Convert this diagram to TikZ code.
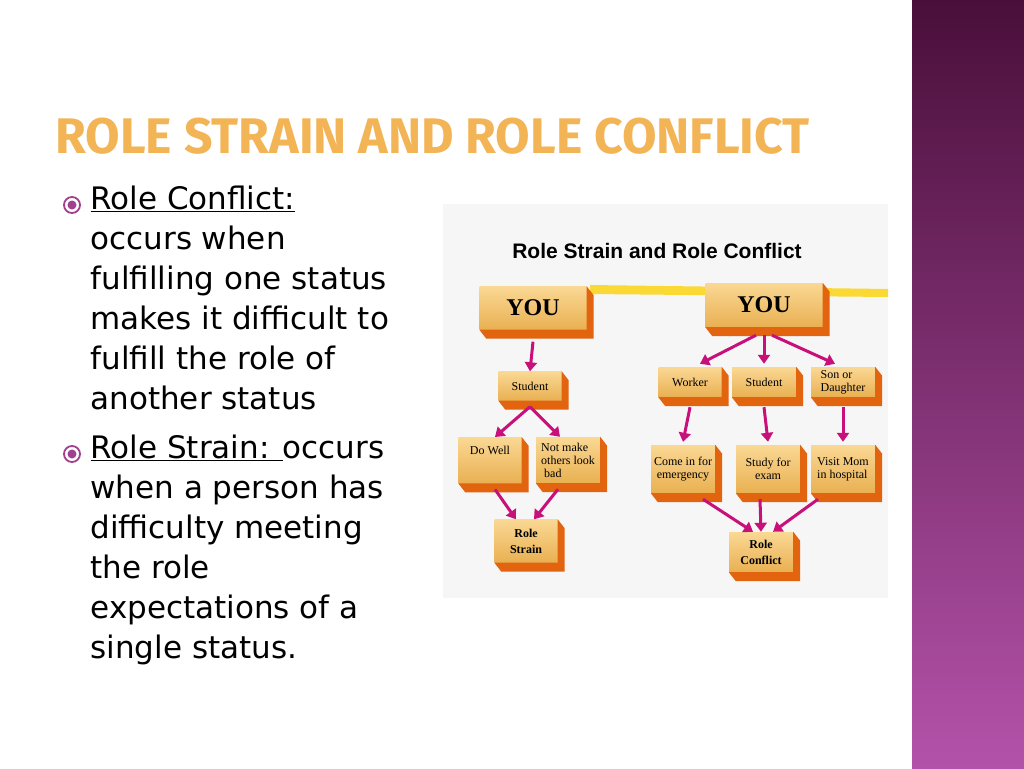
\documentclass[tikz,border=0pt]{standalone}
\usepackage{fontspec}
\setmainfont{DejaVu Sans}
\newfontfamily\serif{Liberation Serif}
\newfontfamily\arial{Liberation Sans}
\newfontfamily\ttl{Fira Sans}
\usetikzlibrary{arrows.meta}
\definecolor{band1}{HTML}{4A0F3A}
\definecolor{band2}{HTML}{B452AA}
\definecolor{gold1}{HTML}{FAD894}
\definecolor{gold2}{HTML}{E9B052}
\definecolor{side}{HTML}{E2640F}
\definecolor{arr}{HTML}{C8107A}
\definecolor{ttlc}{HTML}{F2B455}
\definecolor{dot}{HTML}{A0408E}

\tikzset{
 box/.style={top color=gold1,bottom color=gold2,inner sep=1pt,align=center,
  font=\serif\fontsize{12}{13}\selectfont},
 pink/.style={draw=arr,line width=3pt,-{Triangle[length=9pt,width=12pt]}}
}
\newcommand\faces[1]{%
 \fill[side] (#1.north east) -- ([shift={(7pt,-9pt)}]#1.north east)
  -- ([shift={(7pt,-9pt)}]#1.south east) -- ([shift={(7pt,-9pt)}]#1.south west)
  -- (#1.south west) -- (#1.south east) -- cycle;}

\begin{document}
\begin{tikzpicture}[x=1pt,y=-1pt]
\useasboundingbox[fill=white] (0,0) rectangle (1024,768);
\shade[top color=band1,bottom color=band2] (912,0) rectangle (1024,768);

\node[anchor=west,text=ttlc,font=\ttl\bfseries\fontsize{50}{50}\selectfont] (title) at (52,136) {ROLE STRAIN AND ROLE CONFLICT};

% bullets
\node[anchor=north west,align=left,font=\fontsize{31}{40}\selectfont] (t1) at (87,182)
 {\underline{Role Conflict:}\\occurs when\\fulfilling one status\\makes it difficult to\\fulfill the role of\\another status};
\node[anchor=north west,align=left,font=\fontsize{31}{40}\selectfont] (t2) at (87,431)
 {\underline{Role Strain: }occurs\\when a person has\\difficulty meeting\\the role\\expectations of a\\single status.};
\foreach \n/\y in {b1/205,b2/454} {
 \node[circle,draw=dot,line width=1.8pt,minimum size=16pt,inner sep=0] (\n) at (72,\y) {};
 \fill[dot] (\n) circle (4.5);
}

% diagram
\fill[gray!7] (443,204) rectangle (888,598);
\node[font=\arial\bfseries\fontsize{21}{21}\selectfont] (dt) at (657,251) {Role Strain and Role Conflict};
\fill[yellow!70!orange,opacity=.8] (590,285) -- (888,289) -- (888,297) -- (590,294) -- cycle;

\node[box,minimum width=107,minimum height=43,font=\serif\bfseries\fontsize{24}{24}\selectfont] (yl) at (533,308) {YOU};
\node[box,minimum width=117,minimum height=44,font=\serif\bfseries\fontsize{24}{24}\selectfont] (yr) at (764,305) {YOU};
\node[box,minimum width=63,minimum height=29] (stl) at (530,386) {Student};
\node[box,minimum width=63,minimum height=30] (wk) at (690,382) {Worker};
\node[box,minimum width=64,minimum height=30] (str) at (764,382) {Student};
\node[box,minimum width=64,minimum height=30,align=left] (son) at (843,382) {Son or\\Daughter};
\node[box,minimum width=63,minimum height=46,anchor=north,text depth=20pt] (dw) at (490,437) {Do Well};
\node[box,minimum width=64,minimum height=46,align=left] (nm) at (568,460) {Not make\\others look\\\ bad};
\node[box,minimum width=64,minimum height=48] (ce) at (683,469) {Come in for\\emergency};
\node[box,minimum width=64,minimum height=48] (se) at (768,469) {Study for\\exam};
\node[box,minimum width=64,minimum height=48,align=left] (vm) at (843,469) {Visit Mom\\in hospital};
\node[box,minimum width=63,minimum height=43,font=\serif\bfseries\fontsize{12}{16}\selectfont] (rs) at (526,541) {Role\\Strain};
\node[box,minimum width=64,minimum height=40,font=\serif\bfseries\fontsize{12}{16}\selectfont] (rc) at (761,552) {Role\\Conflict};
\foreach \n in {yl,yr,stl,wk,str,son,dw,nm,ce,se,vm,rs,rc} \faces{\n};

% arrows
\draw[pink] ([yshift=-12pt]yl.south) -- (stl.north);
\draw[pink] ([yshift=-6pt]stl.south) -- ([xshift=5pt]dw.north);
\draw[pink] ([yshift=-6pt]stl.south) -- ([xshift=-8pt]nm.north);
\draw[pink] ([shift={(-8pt,-8pt)}]yr.south) -- ([xshift=10pt,yshift=3pt]wk.north);
\draw[pink] ([yshift=-8pt]yr.south) -- ([yshift=3pt]str.north);
\draw[pink] ([shift={(8pt,-8pt)}]yr.south) -- ([xshift=-8pt,yshift=3pt]son.north);
\foreach \a/\b in {wk/ce,str/se,son/vm} \draw[pink] ([yshift=-10pt]\a.south) -- ([yshift=3pt]\b.north);
\draw[pink] ([shift={(5pt,-6pt)}]dw.south) -- ([xshift=-10pt]rs.north);
\draw[pink] ([shift={(-10pt,-6pt)}]nm.south) -- ([xshift=8pt]rs.north);
\draw[pink] ([shift={(20pt,-6pt)}]ce.south) -- ([xshift=-8pt]rc.north);
\draw[pink] ([shift={(-8pt,-6pt)}]se.south) -- ([xshift=0pt]rc.north);
\draw[pink] ([shift={(-25pt,-6pt)}]vm.south) -- ([xshift=12pt]rc.north);
\end{tikzpicture}
\end{document}
